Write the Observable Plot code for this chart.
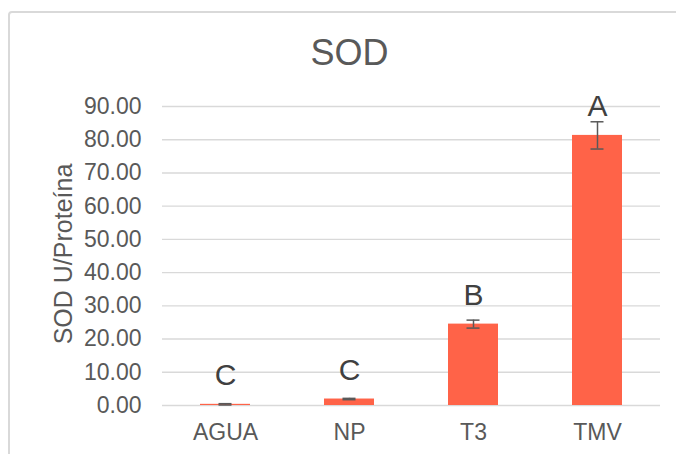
<!DOCTYPE html>
<html>
<head>
<meta charset="utf-8">
<script src="https://cdn.jsdelivr.net/npm/d3@7"></script>
<script src="https://cdn.jsdelivr.net/npm/@observablehq/plot@0.6"></script>
<style>
  html, body { margin: 0; padding: 0; background: #fff; overflow: hidden; }
  body { width: 676px; height: 454px; position: relative; font-family: "Liberation Sans", Arial, sans-serif; }
  #frame { position: absolute; left: 8px; top: 11px; width: 800px; height: 600px; border: 2px solid #d9d9d9; border-radius: 4px; box-sizing: border-box; }
  #chart { position: absolute; left: 0; top: 0; }
</style>
</head>
<body>
<div id="frame"></div>
<div id="chart"></div>
<script>
const title = "SOD";
const yTitle = "SOD U/Proteína";
const categories = ["AGUA", "NP", "T3", "TMV"];
const means = [0.35, 1.95, 24.5, 81.3];
const errors = [0.2, 0.2, 1.2, 4.1];
const letters = ["C", "C", "B", "A"];
const yTicks = [0, 10, 20, 30, 40, 50, 60, 70, 80, 90];

const data = categories.map((c, i) => ({
  cat: c, value: means[i], lo: means[i] - errors[i], hi: means[i] + errors[i], letter: letters[i]
}));

const font = "'Liberation Sans', Arial, sans-serif";
const chart = Plot.plot({
  width: 676,
  height: 454,
  marginTop: 106,
  marginBottom: 49,
  marginLeft: 162,
  marginRight: 16,
  style: { fontFamily: font, background: "transparent" },
  x: { domain: categories, paddingInner: 0.6, paddingOuter: 0.3, label: null },
  y: { domain: [0, 90], label: null },
  marks: [
    Plot.gridY(yTicks, { stroke: "#d9d9d9", strokeOpacity: 1, strokeWidth: 1.4 }),
    Plot.barY(data, { x: "cat", y: "value", fill: "#FF6348" }),
    Plot.ruleX(data, { x: "cat", y1: "lo", y2: "hi", stroke: "#595959", strokeWidth: 1.5 }),
    Plot.tickY(data, { x: "cat", y: "lo", stroke: "#595959", strokeWidth: 1.5, insetLeft: 18.5, insetRight: 18.5 }),
    Plot.tickY(data, { x: "cat", y: "hi", stroke: "#595959", strokeWidth: 1.5, insetLeft: 18.5, insetRight: 18.5 }),
    Plot.text(data, { x: "cat", y: "value", text: "letter", dy: -29, fontSize: 30, fill: "#404040" }),
    Plot.axisY({ ticks: yTicks, tickSize: 0, tickPadding: 21, fontSize: 23, fill: "#595959", tickFormat: d => d.toFixed(2), label: null }),
    Plot.axisX({ tickSize: 0, tickPadding: 18, fontSize: 23, fill: "#595959", label: null }),
    Plot.text([title], { frameAnchor: "top", dx: -62, dy: -67, fontSize: 36, fill: "#595959" }),
    Plot.text([yTitle], { frameAnchor: "left", textAnchor: "middle", rotate: -90, dx: -99, dy: -2, fontSize: 25, fill: "#595959" })
  ]
});
document.getElementById("chart").appendChild(chart);
</script>
</body>
</html>
